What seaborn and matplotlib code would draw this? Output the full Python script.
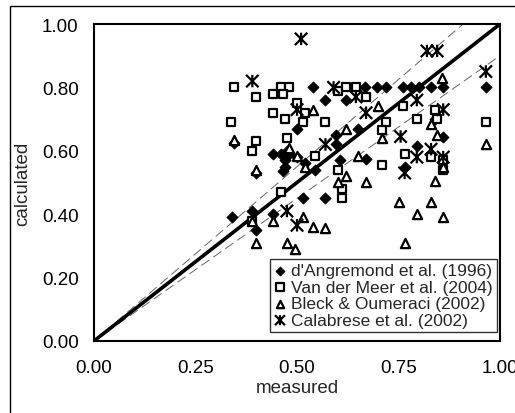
import numpy as np
import pandas as pd
import matplotlib.pyplot as plt
from matplotlib.patches import Rectangle
from matplotlib.path import Path
import seaborn as sns

# values (measured, calculated)
angremond_x = [0.345, 0.34, 0.39, 0.40, 0.44, 0.44, 0.46, 0.48, 0.47, 0.40, 0.50, 0.54, 0.57, 0.62,
               0.65, 0.595, 0.595, 0.605, 0.67, 0.545, 0.515, 0.57, 0.465, 0.667, 0.697, 0.72, 0.76,
               0.78, 0.80, 0.83, 0.86, 0.965, 0.84, 0.86, 0.795, 0.765, 0.47, 0.50, 0.52, 0.475]
angremond_y = [0.625, 0.39, 0.41, 0.35, 0.40, 0.59, 0.59, 0.59, 0.55, 0.53, 0.67, 0.80, 0.76, 0.76,
               0.67, 0.62, 0.65, 0.57, 0.575, 0.54, 0.45, 0.45, 0.535, 0.80, 0.80, 0.80, 0.80,
               0.80, 0.80, 0.80, 0.80, 0.80, 0.70, 0.645, 0.615, 0.55, 0.57, 0.58, 0.56, 0.60]

vandermeer_x = [0.345, 0.40, 0.44, 0.46, 0.48, 0.465, 0.50, 0.44, 0.47, 0.337, 0.40, 0.475, 0.39,
                0.46, 0.39, 0.60, 0.62, 0.645, 0.67, 0.52, 0.515, 0.57, 0.545, 0.60, 0.61, 0.61,
                0.76, 0.72, 0.795, 0.71, 0.84, 0.845, 0.765, 0.83, 0.86, 0.86, 0.71, 0.965]
vandermeer_y = [0.80, 0.77, 0.78, 0.80, 0.80, 0.78, 0.75, 0.72, 0.70, 0.69, 0.63, 0.64, 0.60,
                0.47, 0.38, 0.79, 0.80, 0.80, 0.77, 0.72, 0.69, 0.69, 0.585, 0.54, 0.48, 0.45,
                0.74, 0.69, 0.70, 0.665, 0.73, 0.70, 0.59, 0.58, 0.57, 0.54, 0.555, 0.69]

bleck_x = [0.40, 0.44, 0.475, 0.495, 0.39, 0.54, 0.62, 0.48, 0.50, 0.52, 0.65, 0.60, 0.62, 0.67,
           0.515, 0.54, 0.57, 0.70, 0.71, 0.83, 0.845, 0.857, 0.965, 0.75, 0.83, 0.795, 0.86,
           0.765, 0.86, 0.84, 0.40, 0.345]
bleck_y = [0.31, 0.38, 0.31, 0.29, 0.38, 0.73, 0.67, 0.61, 0.585, 0.55, 0.585, 0.50, 0.52, 0.50,
           0.39, 0.36, 0.356, 0.74, 0.64, 0.685, 0.65, 0.83, 0.62, 0.44, 0.44, 0.40, 0.39,
           0.31, 0.55, 0.505, 0.54, 0.635]

calabrese_x = [0.51, 0.39, 0.50, 0.475, 0.50, 0.59, 0.645, 0.67, 0.57, 0.82, 0.845, 0.965, 0.795,
               0.755, 0.86, 0.83, 0.795, 0.86, 0.765]
calabrese_y = [0.953, 0.82, 0.73, 0.41, 0.365, 0.80, 0.77, 0.72, 0.62, 0.915, 0.915, 0.85, 0.76,
               0.645, 0.73, 0.605, 0.58, 0.58, 0.53]

labels = ["d'Angremond et al. (1996)", "Van der Meer et al. (2004)",
          "Bleck & Oumeraci (2002)", "Calabrese et al. (2002)"]

# Excel-style asterisk: an X with a vertical bar through it
star = Path([(0, -1), (0, 1), (-1, -1), (1, 1), (-1, 1), (1, -1)],
            [Path.MOVETO, Path.LINETO] * 3)

sns.set_style("white")
plt.rcParams['font.family'] = ['Liberation Sans', 'DejaVu Sans']

fig = plt.figure(figsize=(5.15, 4.14), dpi=100)
ax = fig.add_axes([0.1825, 0.174, 0.7885, 0.7656])

# reference lines: perfect fit and +/-10 %
line = np.array([0.0, 1.0])
ax.plot(line, line * 1.1, color="0.4", lw=0.7, dashes=(10, 5), zorder=1)
ax.plot(line, line * 0.9, color="0.4", lw=0.7, dashes=(10, 5), zorder=1)
ax.plot(line, line, color="black", lw=2.6, zorder=2)

sns.scatterplot(x=angremond_x, y=angremond_y, marker="D", s=30, color="black",
                edgecolor="black", linewidth=0.8, label=labels[0], ax=ax, zorder=3)
sns.scatterplot(x=vandermeer_x, y=vandermeer_y, marker="s", s=40, facecolor="white",
                edgecolor="black", linewidth=1.6, label=labels[1], ax=ax, zorder=3)
sns.scatterplot(x=bleck_x, y=bleck_y, marker="^", s=44, facecolor="white",
                edgecolor="black", linewidth=1.6, label=labels[2], ax=ax, zorder=3)
sns.scatterplot(x=calabrese_x, y=calabrese_y, marker=star, s=80, facecolor="none",
                edgecolor="black", linewidth=1.6, label=labels[3], ax=ax, zorder=3)

ax.set_xlim(0, 1)
ax.set_ylim(0, 1)
ax.set_xticks([0, 0.25, 0.5, 0.75, 1.0])
ax.set_yticks([0, 0.2, 0.4, 0.6, 0.8, 1.0])
ax.set_xticklabels(["0.00", "0.25", "0.50", "0.75", "1.00"])
ax.set_yticklabels(["0.00", "0.20", "0.40", "0.60", "0.80", "1.00"])
ax.tick_params(direction="in", length=5, width=1, colors="black", labelsize=13.5)
ax.tick_params(axis="x", pad=13)
ax.tick_params(axis="y", pad=11)
ax.set_xlabel("measured", fontsize=13.5, labelpad=2)
ax.set_ylabel("calculated", fontsize=13.5, labelpad=8)
for sp in ax.spines.values():
    sp.set_color("black")
    sp.set_linewidth(1.5)

leg = ax.legend(loc="lower right", bbox_to_anchor=(0.993, 0.028), borderaxespad=0,
                frameon=True, fancybox=False, edgecolor="black", fontsize=12.5,
                handlelength=0.7, handletextpad=0.3, labelspacing=0.08,
                borderpad=0.25, markerscale=0.8)
leg.get_frame().set_linewidth(1.0)

# outer chart frame (cropped on right and bottom)
fig.patches.append(Rectangle((10 / 515, -0.1), 1.2, 1.1 - 7 / 414, transform=fig.transFigure,
                             fill=False, edgecolor="black", lw=1.0))

fig.savefig("out.png", dpi=100)
